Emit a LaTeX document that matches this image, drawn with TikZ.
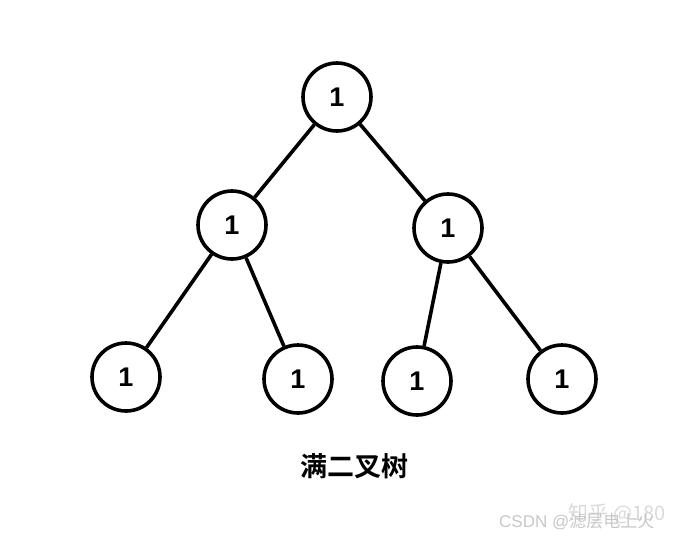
\documentclass[tikz,border=0pt]{standalone}
\usepackage{fontspec}
\setmainfont{Liberation Sans}
\newfontfamily\cjkfont{Noto Sans CJK SC}
\newfontfamily\cjkbold{Noto Sans CJK SC Bold}
\begin{document}
\begin{tikzpicture}[x=1pt,y=-1pt,
  tnode/.style={circle,draw=black,line width=3.6pt,minimum size=68pt,inner sep=0pt,font=\fontsize{27}{27}\selectfont\bfseries},
  edge/.style={line width=3.6pt,draw=black},
  wm/.style={text=black!22,font=\fontsize{17}{17}\selectfont,inner sep=0pt}]
\useasboundingbox (0,0) rectangle (685,542);
\node[tnode] (r) at (337,97) {1};
\node[tnode] (a) at (232,225) {1};
\node[tnode] (b) at (448,228) {1};
\node[tnode] (a1) at (126,377) {1};
\node[tnode] (a2) at (298,379) {1};
\node[tnode] (b1) at (417,381) {1};
\node[tnode] (b2) at (562,379) {1};
\draw[edge] (r) -- (a);
\draw[edge] (r) -- (b);
\draw[edge] (a) -- (a1);
\draw[edge] (a) -- (a2);
\draw[edge] (b) -- (b1);
\draw[edge] (b) -- (b2);
\node[font=\cjkbold\fontsize{27}{27}\selectfont,inner sep=0pt] (title) at (354,466) {满二叉树};
\node[wm,text=black!15,font=\cjkfont\fontsize{20}{20}\selectfont] (wm1) at (617,514) {知乎 @180};
\node[wm,anchor=west] (wm2) at (499,522) {CSDN @{\cjkfont 滤层电上火}};
\end{tikzpicture}
\end{document}
